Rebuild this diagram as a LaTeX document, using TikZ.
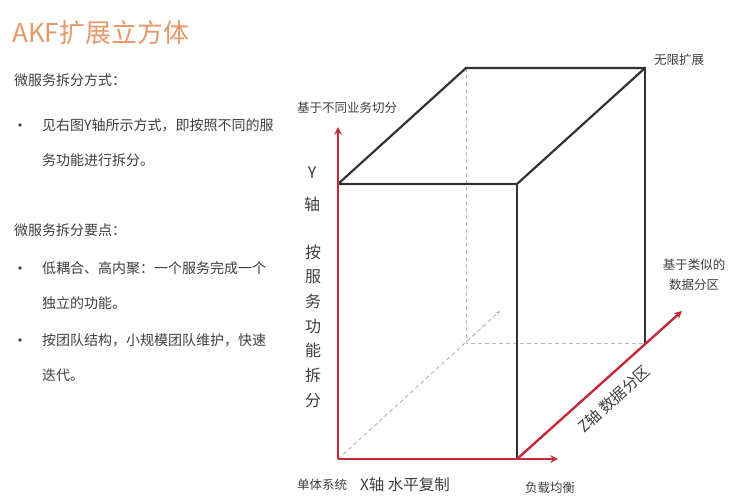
\documentclass[tikz,border=0pt]{standalone}
\usepackage{fontspec}
\setmainfont{Noto Sans CJK SC}
\usetikzlibrary{arrows,positioning}
\definecolor{titleorange}{RGB}{229,152,104}
\definecolor{textgrey}{RGB}{62,62,62}
\definecolor{axisred}{RGB}{196,42,58}
\definecolor{edgegrey}{RGB}{48,52,56}
\tikzstyle{heading} = [anchor=west, inner sep=0pt, text=titleorange, font=\fontsize{26}{26}\selectfont]
\tikzstyle{bodytext} = [anchor=base west, inner sep=0pt, text=textgrey, font=\fontsize{14}{14}\selectfont]
\tikzstyle{dot} = [circle, fill=textgrey, inner sep=0pt, minimum size=3.6pt]
\tikzstyle{cubeedge} = [line width=2.2pt, draw=edgegrey, line join=round, line cap=round]
\tikzstyle{hiddenedge} = [line width=1pt, draw=gray!55, dash pattern=on 4pt off 3pt]
\tikzstyle{redaxis} = [line width=2.4pt, draw=axisred, ->, >=stealth]
\tikzstyle{cubelabel} = [inner sep=0pt, text=textgrey, font=\fontsize{12.5}{20}\selectfont, align=center]
\tikzstyle{axislabel} = [inner sep=0pt, text=textgrey, font=\fontsize{15.5}{15.5}\selectfont, align=center]
\newcommand{\vtext}[1]{\fontsize{16}{24.7}\selectfont #1}

\begin{document}
\begin{tikzpicture}[x=1pt,y=-1pt]
\useasboundingbox (0,0) rectangle (744,499);
% left column
\node (title) [heading] at (12,33) {AKF扩展立方体};
\node (way) [bodytext] at (14,85) {微服务拆分方式：};
\node (dot1) [dot] at (20,125) {};
\node (way1) [bodytext] at (42,130) {见右图Y轴所示方式，即按照不同的服};
\node (way2) [bodytext, below=35pt of way1.base west, anchor=base west] {务功能进行拆分。};
\node (point) [bodytext] at (14,235) {微服务拆分要点：};
\node (dot2) [dot] at (20,268) {};
\node (point1) [bodytext] at (42,273) {低耦合、高内聚：一个服务完成一个};
\node (point2) [bodytext, below=35pt of point1.base west, anchor=base west] {独立的功能。};
\node (dot3) [dot] at (20,340) {};
\node (point3) [bodytext] at (42,345) {按团队结构，小规模团队维护，快速};
\node (point4) [bodytext, below=35pt of point3.base west, anchor=base west] {迭代。};
% cube corners
\coordinate (o) at (338,459);
\coordinate (ftl) at (338,184);
\coordinate (ftr) at (517,184);
\coordinate (fbr) at (517,459);
\coordinate (btl) at (466,68);
\coordinate (btr) at (645,68);
\coordinate (bbr) at (645,343);
\coordinate (bbl) at (466,343);
\coordinate (zend) at (500,311);
\coordinate (yend) at (338,127);
\coordinate (xend) at (558,459);
\coordinate (ztip) at (682,311);
% hidden edges
\draw[hiddenedge] (btl) -- (bbl) -- (bbr);
\draw[hiddenedge, ->, >=stealth] (o) -- (zend);
% visible edges
\draw[cubeedge] (ftl) -- (btl) -- (btr) -- (ftr) -- cycle;
\draw[cubeedge] (ftr) -- (fbr);
\draw[cubeedge] (btr) -- (bbr);
% axes
\draw[redaxis] (o) -- (yend);
\draw[redaxis] (o) -- (xend);
\draw[redaxis] (fbr) -- (ztip);
% labels
\node (ytop) [cubelabel] at (347,108) {基于不同业务切分};
\node (inf) [cubelabel] at (679,60) {无限扩展};
\node (yname) [axislabel, font=\fontsize{16}{32}\selectfont] at (312,189) {Y\\轴};
\node (ydesc) [axislabel, font=\vtext{}] at (313,326) {按\\服\\务\\功\\能\\拆\\分};
\node (mono) [cubelabel] at (322,485) {单体系统};
\node (xname) [axislabel] at (405,485) {X轴 水平复制};
\node (lb) [cubelabel] at (550,488) {负载均衡};
\node (part) [cubelabel] at (694,275) {基于类似的\\数据分区};
\node (zname) [axislabel, rotate=42] at (614,399) {Z轴 数据分区};
\end{tikzpicture}
\end{document}
